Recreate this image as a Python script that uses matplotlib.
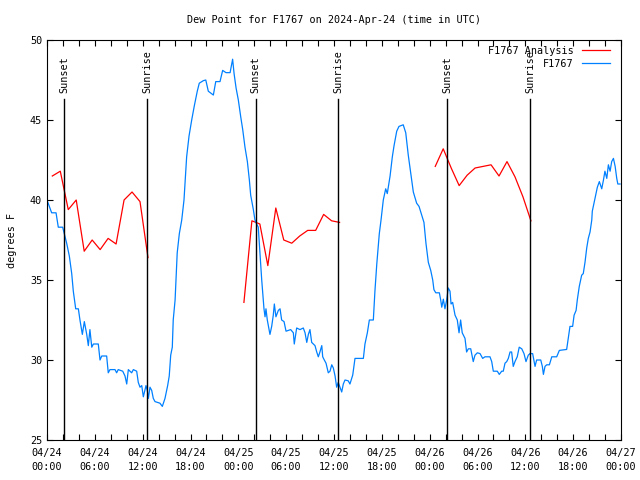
import numpy as np
import matplotlib
matplotlib.use('Agg')
import matplotlib.pyplot as plt
import matplotlib.dates as mdates

plt.rcParams['font.family'] = 'DejaVu Sans Mono'

start = np.datetime64('2024-04-24T00:00')

# hours since 04/24 00:00 UTC
obs_hours = [0.0, 0.59, 1.13, 1.42, 1.97, 2.17, 2.47, 2.80, 3.10, 3.30, 3.60, 3.93, 4.14, 4.43, 4.68, 4.98,
             5.18, 5.39, 5.61, 5.81, 6.44, 6.65, 6.86, 7.49, 7.69, 7.90, 8.53, 8.74, 8.94, 9.50, 9.78, 10.0,
             10.2, 10.62, 10.83, 11.25, 11.45, 11.67, 11.88, 12.08, 12.42, 12.58, 12.71, 12.92, 13.13, 13.33,
             13.55, 14.17, 14.46, 14.80, 15.14, 15.34, 15.52, 15.72, 15.84, 16.06, 16.18, 16.34, 16.60, 16.90,
             17.19, 17.52, 17.81, 18.15, 18.48, 18.85, 19.10, 19.61, 19.91, 20.23, 20.86, 21.16, 21.70, 22.04,
             22.45, 22.96, 23.29, 23.46, 23.71, 24.0, 24.30, 24.55, 24.84, 25.13, 25.38, 25.55, 25.88, 26.09,
             26.30, 26.50, 26.72, 26.93, 27.22, 27.35, 27.47, 27.63, 27.97, 28.18, 28.38, 28.51, 28.72, 29.01,
             29.23, 29.44, 29.73, 29.98, 30.57, 30.90, 31.02, 31.32, 31.74, 32.15, 32.36, 32.58, 32.78, 32.99,
             33.20, 33.62, 33.83, 34.03, 34.24, 34.46, 34.58, 34.78, 35.0, 35.29, 35.50, 35.71, 35.91, 36.13,
             36.34, 36.54, 36.75, 36.97, 37.17, 37.38, 37.79, 38.0, 38.35, 38.64, 39.68, 39.89, 40.18, 40.43,
             40.93, 41.14, 41.36, 41.68, 41.90, 42.18, 42.49, 42.69, 43.03, 43.31, 43.53, 43.87, 44.15, 44.69,
             45.0, 45.32, 45.62, 45.95, 46.37, 46.66, 47.0, 47.29, 47.54, 47.83, 48.13, 48.38, 48.54, 48.76,
             49.21, 49.39, 49.51, 49.71, 49.92, 50.13, 50.34, 50.55, 50.68, 50.89, 51.18, 51.47, 51.68, 51.89,
             52.09, 52.43, 52.64, 52.85, 53.15, 53.47, 53.69, 53.98, 54.31, 54.65, 54.94, 55.57, 55.78, 55.98,
             56.49, 56.74, 57.04, 57.24, 57.45, 57.66, 57.87, 58.08, 58.29, 58.49, 58.70, 58.99, 59.24, 59.55,
             59.83, 60.09, 60.37, 60.59, 60.92, 61.21, 61.42, 61.93, 62.13, 62.26, 62.47, 62.68, 63.01, 63.31,
             63.94, 64.26, 65.19, 65.39, 65.60, 65.94, 66.11, 66.36, 66.52, 66.77, 67.07, 67.27, 67.49, 67.70,
             67.90, 68.11, 68.33, 68.40, 68.74, 69.03, 69.28, 69.58, 69.80, 69.99, 70.21, 70.42, 70.63, 70.84,
             71.05, 71.26, 71.47, 71.60, 71.88]
obs_dewpt = [40.0, 39.2, 39.2, 38.3, 38.3, 37.9, 37.3, 36.5, 35.4, 34.3, 33.2, 33.2, 32.5, 31.6, 32.4, 31.6,
             30.9, 31.9, 30.8, 31.0, 31.0, 30.0, 30.25, 30.25, 29.2, 29.4, 29.4, 29.2, 29.4, 29.3, 29.0, 28.5,
             29.4, 29.2, 29.4, 29.3, 28.6, 28.3, 28.4, 27.7, 28.4, 28.1, 27.6, 28.3, 28.1, 27.6,
             27.4, 27.3, 27.1, 27.6, 28.4, 29.0, 30.3, 30.8, 32.5, 33.75, 35.0, 36.7, 37.9, 38.75,
             40.0, 42.7, 44.0, 45.0, 45.9, 46.8, 47.3, 47.46, 47.5, 46.8, 46.56, 47.4, 47.4, 48.1,
             47.96, 47.96, 48.8, 47.9, 47.0, 46.25, 45.2, 44.4, 43.3, 42.4, 41.25, 40.3, 39.4, 38.75,
             38.5, 38.3, 36.7, 35.0, 33.2, 32.7, 33.2, 32.5, 31.6, 32.1, 32.8, 33.5, 32.7, 33.1,
             33.2, 32.5, 32.4, 31.8, 31.9, 31.7, 31.0, 32.0, 31.9, 32.0, 31.7, 31.1, 31.6, 31.9,
             31.1, 30.9, 30.5, 30.2, 30.5, 30.9, 30.2, 30.0, 29.8, 29.2, 29.3, 29.7, 29.5, 29.0,
             28.3, 28.6, 28.3, 28.0, 28.5, 28.75, 28.7, 28.5, 29.06, 30.1, 30.1, 31.0, 31.7, 32.5,
             32.5, 34.3, 36.0, 37.9, 38.75, 40.0, 40.7, 40.4, 41.5, 42.7, 43.4, 44.3, 44.6, 44.7,
             44.2, 42.8, 41.7, 40.5, 39.8, 39.6, 39.06, 38.6, 37.3, 36.1, 35.6, 35.0, 34.4, 34.2,
             34.2, 33.75, 33.3, 33.8, 33.2, 33.75, 34.5, 34.3, 33.5, 33.6, 32.8, 32.5, 31.7, 32.5,
             31.7, 31.35, 30.5, 30.7, 30.7, 29.9, 30.3, 30.45, 30.4, 30.1, 30.2, 30.2, 29.9, 29.3,
             29.3, 29.1, 29.3, 29.3, 29.8, 29.9, 30.1, 30.5, 30.5, 29.6, 29.9, 30.2, 30.8, 30.7,
             30.4, 29.9, 30.3, 30.4, 30.4, 29.6, 30.0, 30.0, 29.6, 29.1, 29.6, 29.7, 29.7, 30.2,
             30.2, 30.6, 30.66, 31.35, 32.1, 32.1, 32.8, 33.1, 33.75, 34.6, 35.3, 35.4, 36.1, 37.0,
             37.6, 38.0, 38.75, 39.3, 40.1, 40.8, 41.15, 40.7, 41.25, 41.8, 41.35, 42.2, 41.8, 42.4,
             42.6, 42.1, 41.35, 41.0, 41.0]

# analysis runs, hourly, three separate segments
ana1_hours = [0.67 + i for i in range(13)]
ana1_dewpt = [41.5, 41.8, 39.4, 40.0, 36.8, 37.5, 36.9, 37.6, 37.25, 40.0, 40.5, 39.9, 36.4]
ana2_hours = [24.7 + i for i in range(13)]
ana2_dewpt = [33.6, 38.7, 38.5, 35.9, 39.5, 37.5, 37.3, 37.75, 38.1, 38.1, 39.1, 38.7, 38.6]
ana3_hours = [48.7 + i for i in range(13)]
ana3_dewpt = [42.1, 43.2, 42.0, 40.9, 41.55, 42.0, 42.1, 42.2, 41.5, 42.4, 41.45, 40.2, 38.7]

sun_hours = [2.17, 12.58, 26.2, 36.55, 50.2, 60.6]
sun_labels = ['Sunset', 'Sunrise', 'Sunset', 'Sunrise', 'Sunset', 'Sunrise']


def to_time(hours):
    return start + (np.array(hours) * 60).round().astype('timedelta64[m]')


fig = plt.figure(figsize=(6.4, 4.8), dpi=100)
ax = fig.add_axes([47 / 640, 40 / 480, 574 / 640, 400 / 480])

red = '#ff0000'
blue = '#0080ff'
ax.plot(to_time(ana1_hours), ana1_dewpt, color=red, lw=0.9, label='F1767 Analysis')
ax.plot(to_time(ana2_hours), ana2_dewpt, color=red, lw=0.9)
ax.plot(to_time(ana3_hours), ana3_dewpt, color=red, lw=0.9)
ax.plot(to_time(obs_hours), obs_dewpt, color=blue, lw=0.9, label='F1767')

for t, lab in zip(to_time(sun_hours), sun_labels):
    ax.plot([t, t], [25, 46.3], color='black', lw=1)
    ax.text(t, 46.7, lab, rotation=90, ha='center', va='bottom', fontsize=7.3)

ax.set_xlim(to_time([0])[0], to_time([72])[0])
ax.set_ylim(25, 50)
ax.set_yticks([25, 30, 35, 40, 45, 50])
ax.xaxis.set_major_locator(mdates.HourLocator(byhour=[0, 6, 12, 18]))
ax.xaxis.set_minor_locator(mdates.HourLocator(interval=2))
ax.xaxis.set_major_formatter(mdates.DateFormatter('%m/%d\n%H:%M'))
ax.tick_params(which='both', direction='in', top=True, right=True, length=4, width=0.8, labelsize=7.3)
ax.tick_params(axis='x', pad=6)
for lbl in ax.get_xticklabels():
    lbl.set_linespacing(1.45)

ax.set_title('Dew Point for F1767 on 2024-Apr-24 (time in UTC)', fontsize=7.3, pad=12)
ax.set_ylabel('degrees F', fontsize=7.3, labelpad=9)

ax.legend(loc='upper right', bbox_to_anchor=(0.981, 0.985), markerfirst=False, frameon=False,
          fontsize=7.3, handlelength=2.8, borderaxespad=0, borderpad=0,
          labelspacing=0.3, handletextpad=0.8)

fig.savefig('out.png', dpi=100)
